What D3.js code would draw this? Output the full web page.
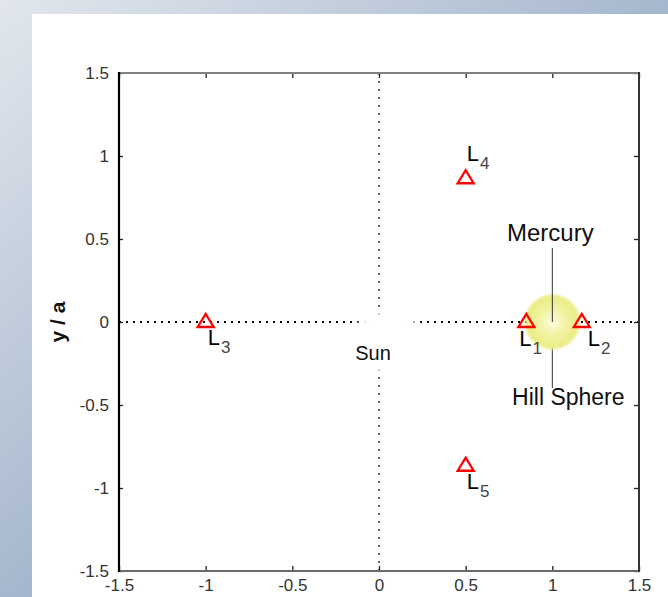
<!DOCTYPE html>
<html>
<head>
<meta charset="utf-8">
<script src="https://cdn.jsdelivr.net/npm/d3@7"></script>
<style>
  html, body { margin: 0; padding: 0; background: #fff; }
  svg { display: block; font-family: "Liberation Sans", Arial, sans-serif; }
</style>
</head>
<body>
<svg id="chart" width="668" height="597"></svg>
<script>
// Axis ticks (normalised coordinates x/a and y/a)
const tickValues = [-1.5, -1, -0.5, 0, 0.5, 1, 1.5];
const tickLabels = ["-1.5", "-1", "-0.5", "0", "0.5", "1", "1.5"];

// Lagrange points of the Sun–Mercury system (exaggerated spacing)
const lagrangeNames = ["1", "2", "3", "4", "5"];
const lagrangeX = [0.85, 1.17, -1.0, 0.5, 0.5];
const lagrangeY = [0, 0, 0, 0.866, -0.866];

// Bodies
const sunPos = [0, 0];
const mercuryPos = [1, 0];
const hillRadius = 0.16;

// Label placement relative to each marker, in pixels
const labelOffsets = { "1": [-7, 24], "2": [6, 24], "3": [2, 23], "4": [1, -17], "5": [1, 23] };

const W = 668, H = 597;
const svg = d3.select("#chart");
const defs = svg.append("defs");

// Backdrop gradient and white panel
const bg = defs.append("linearGradient").attr("id", "bg")
  .attr("x1", 0).attr("y1", 0).attr("x2", 1).attr("y2", 1);
bg.append("stop").attr("offset", 0).attr("stop-color", "#e2e7ed");
bg.append("stop").attr("offset", 0.5).attr("stop-color", "#a7b8ce");
bg.append("stop").attr("offset", 1).attr("stop-color", "#8ea3bf");
svg.append("rect").attr("width", W).attr("height", H).attr("fill", "url(#bg)");
svg.append("rect").attr("x", 32).attr("y", 14).attr("width", W - 32).attr("height", H - 14).attr("fill", "#fff");

const x = d3.scaleLinear().domain([-1.5, 1.5]).range([119, 639]);
const y = d3.scaleLinear().domain([-1.5, 1.5]).range([571, 73]);
const [x0, x1] = x.range();
const [y0, y1] = y.range();

// Dotted reference lines through the Sun
svg.append("line")
  .attr("x1", x0).attr("x2", x1).attr("y1", y(sunPos[1])).attr("y2", y(sunPos[1]))
  .attr("stroke", "#000").attr("stroke-width", 2).attr("stroke-dasharray", "2,5");
svg.append("line")
  .attr("x1", x(sunPos[0])).attr("x2", x(sunPos[0])).attr("y1", y1).attr("y2", y0)
  .attr("stroke", "#000").attr("stroke-width", 1.2).attr("stroke-dasharray", "2,6");

// Sun label with its white box
const soft = defs.append("filter").attr("id", "soft").attr("x", "-30%").attr("y", "-30%").attr("width", "160%").attr("height", "160%");
soft.append("feGaussianBlur").attr("stdDeviation", 2.5);
svg.append("ellipse")
  .attr("cx", x(sunPos[0]) + 9).attr("cy", y(sunPos[1]) + 20).attr("rx", 38).attr("ry", 30)
  .attr("fill", "#fff").attr("filter", "url(#soft)");
svg.append("text")
  .attr("x", x(sunPos[0]) - 6).attr("y", y(sunPos[1]) + 38)
  .attr("text-anchor", "middle").attr("font-size", 20).attr("fill", "#111")
  .text("Sun");

// Mercury and its Hill sphere
const mx = x(mercuryPos[0]), my = y(mercuryPos[1]);
const hr = x(mercuryPos[0] + hillRadius) - mx;
svg.append("line").attr("x1", mx).attr("x2", mx).attr("y1", my).attr("y2", my + 66)
  .attr("stroke", "#333").attr("stroke-width", 1);

const glow = defs.append("radialGradient").attr("id", "hill");
glow.append("stop").attr("offset", 0).attr("stop-color", "#fbfbe0");
glow.append("stop").attr("offset", 0.5).attr("stop-color", "#f3f3a2");
glow.append("stop").attr("offset", 0.9).attr("stop-color", "#ebeb84");
glow.append("stop").attr("offset", 1).attr("stop-color", "#ebeb84").attr("stop-opacity", 0.7);
const blur = defs.append("filter").attr("id", "blur");
blur.append("feGaussianBlur").attr("stdDeviation", 1);
svg.append("circle").attr("cx", mx).attr("cy", my).attr("r", hr)
  .attr("fill", "url(#hill)").attr("filter", "url(#blur)");

svg.append("line").attr("x1", mx).attr("x2", mx).attr("y1", my - 74).attr("y2", my)
  .attr("stroke", "#333").attr("stroke-width", 1);

svg.append("text").attr("x", mx - 2).attr("y", my - 81)
  .attr("text-anchor", "middle").attr("font-size", 24).attr("fill", "#111").text("Mercury");
svg.append("text").attr("x", mx + 16).attr("y", my + 83)
  .attr("text-anchor", "middle").attr("font-size", 23).attr("fill", "#111").text("Hill Sphere");

// Lagrange point markers
const pts = lagrangeNames.map((n, i) => ({ name: n, lx: lagrangeX[i], ly: lagrangeY[i] }));
svg.selectAll("path.lp").data(pts).join("path")
  .attr("class", "lp")
  .attr("transform", d => `translate(${x(d.lx)},${y(d.ly)})`)
  .attr("d", "M-8,5L8,5L0,-8Z")
  .attr("fill", "none").attr("stroke", "#ff0000").attr("stroke-width", 2.3)
  .attr("stroke-linejoin", "miter");

const labels = svg.selectAll("text.lp").data(pts).join("text")
  .attr("class", "lp")
  .attr("x", d => x(d.lx) + labelOffsets[d.name][0])
  .attr("y", d => y(d.ly) + labelOffsets[d.name][1])
  .attr("font-size", 22).attr("fill", "#000");
labels.append("tspan").text("L");
labels.append("tspan").attr("dx", 1).attr("dy", 8).attr("font-size", 17).attr("fill", "#444")
  .text(d => d.name);

// Axes with inward ticks
const fmt = (d) => tickLabels[tickValues.indexOf(d)];
const gx = svg.append("g").attr("transform", `translate(0,${y0})`)
  .call(d3.axisBottom(x).tickValues(tickValues).tickFormat(fmt).tickSizeInner(-5).tickSizeOuter(0).tickPadding(8));
const gy = svg.append("g").attr("transform", `translate(${x0},0)`)
  .call(d3.axisLeft(y).tickValues(tickValues).tickFormat(fmt).tickSizeInner(-4).tickSizeOuter(0).tickPadding(10));
const gt = svg.append("g").attr("transform", `translate(0,${y1})`)
  .call(d3.axisTop(x).tickValues(tickValues).tickFormat("").tickSizeInner(-5).tickSizeOuter(0));
const gr = svg.append("g").attr("transform", `translate(${x1},0)`)
  .call(d3.axisRight(y).tickValues(tickValues).tickFormat("").tickSizeInner(-5).tickSizeOuter(0));

[gx, gy, gt, gr].forEach(g => {
  g.select(".domain").remove();
  g.selectAll(".tick line").attr("stroke", "#222").attr("stroke-width", 1.3);
  g.selectAll(".tick text").attr("fill", "#333").style("font-family", "'Liberation Sans', Arial, sans-serif");
});
gx.selectAll(".tick text").attr("font-size", 17);
gy.selectAll(".tick text").attr("font-size", 17);

// Frame
svg.append("line").attr("x1", x0).attr("x2", x1).attr("y1", y1).attr("y2", y1).attr("stroke", "#808080").attr("stroke-width", 2);
svg.append("line").attr("x1", x0).attr("x2", x1).attr("y1", y0).attr("y2", y0).attr("stroke", "#6a6a6a").attr("stroke-width", 2);
svg.append("line").attr("x1", x1).attr("x2", x1).attr("y1", y1 - 1).attr("y2", y0 + 1).attr("stroke", "#333").attr("stroke-width", 2);
svg.append("line").attr("x1", x0).attr("x2", x0).attr("y1", y1 - 1).attr("y2", y0 + 1).attr("stroke", "#000").attr("stroke-width", 2.2);

// Y axis title
svg.append("text")
  .attr("transform", `translate(65,${(y0 + y1) / 2}) rotate(-90)`)
  .attr("text-anchor", "middle").attr("font-size", 21).attr("font-weight", "bold").attr("fill", "#111")
  .text("y / a");
</script>
</body>
</html>
